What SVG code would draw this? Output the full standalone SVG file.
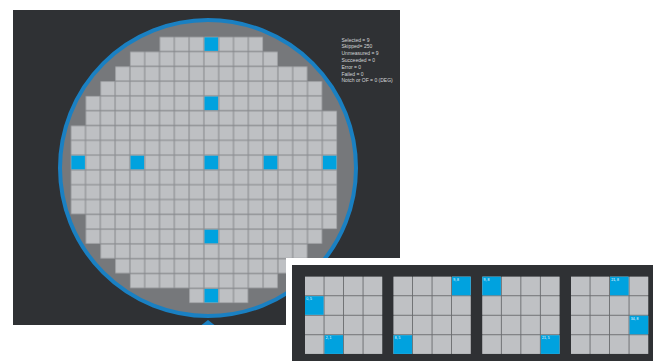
<svg xmlns="http://www.w3.org/2000/svg" width="653" height="361" viewBox="0 0 653 361">
  <style>
    .stat { font-family: "Liberation Sans", Arial, sans-serif; font-size: 5px; fill: #d4d6d8; }
    .lbl { font-family: "Liberation Sans", Arial, sans-serif; font-size: 3.5px; fill: #ffffff; }
    .blue { fill: #00a2df; }
    .cellrow { fill: url(#cells); }
    .mc { fill: #bfc1c4; }
  </style>
  <defs>
    <pattern id="cells" patternUnits="userSpaceOnUse" x="70.7" y="36.7" width="14.8" height="14.8">
      <rect x="0" y="0" width="14.8" height="14.8" fill="#8e9094"/>
      <rect x="0.6" y="0.6" width="13.6" height="13.6" fill="#bec0c3"/>
    </pattern>
    <g id="mini">
      <rect x="0" y="0" width="77.2" height="77.2" fill="#696b6e"/>
      <g class="mc">
        <rect x="0" y="0" width="18.6" height="18.6"/><rect x="19.5" y="0" width="18.6" height="18.6"/><rect x="39" y="0" width="18.6" height="18.6"/><rect x="58.5" y="0" width="18.7" height="18.6"/>
        <rect x="0" y="19.5" width="18.6" height="18.6"/><rect x="19.5" y="19.5" width="18.6" height="18.6"/><rect x="39" y="19.5" width="18.6" height="18.6"/><rect x="58.5" y="19.5" width="18.7" height="18.6"/>
        <rect x="0" y="39" width="18.6" height="18.6"/><rect x="19.5" y="39" width="18.6" height="18.6"/><rect x="39" y="39" width="18.6" height="18.6"/><rect x="58.5" y="39" width="18.7" height="18.6"/>
        <rect x="0" y="58.5" width="18.6" height="18.7"/><rect x="19.5" y="58.5" width="18.6" height="18.7"/><rect x="39" y="58.5" width="18.6" height="18.7"/><rect x="58.5" y="58.5" width="18.7" height="18.7"/>
      </g>
    </g>
  </defs>

  <rect x="0" y="0" width="653" height="361" fill="#ffffff"/>

  <g id="wafer-panel">
    <rect x="13" y="10" width="387" height="315" fill="#2f3134"/>
    <circle cx="208" cy="168" r="148" fill="#76787b" stroke="#1a80c2" stroke-width="4"/>
    <polygon points="208,320 201.5,325 214.5,325" fill="#1a80c2"/>
    <g id="dies">
      <rect class="cellrow" x="159.5" y="36.7" width="103.6" height="14.8"/>
      <rect class="cellrow" x="129.9" y="51.5" width="148" height="14.8"/>
      <rect class="cellrow" x="115.1" y="66.3" width="192.4" height="14.8"/>
      <rect class="cellrow" x="100.3" y="81.1" width="222" height="14.8"/>
      <rect class="cellrow" x="85.5" y="95.9" width="236.8" height="14.8"/>
      <rect class="cellrow" x="85.5" y="110.7" width="251.6" height="14.8"/>
      <rect class="cellrow" x="70.7" y="125.5" width="266.4" height="88.8"/>
      <rect class="cellrow" x="85.5" y="214.3" width="251.6" height="14.8"/>
      <rect class="cellrow" x="85.5" y="229.1" width="236.8" height="14.8"/>
      <rect class="cellrow" x="100.3" y="243.9" width="207.2" height="14.8"/>
      <rect class="cellrow" x="115.1" y="258.7" width="177.6" height="14.8"/>
      <rect class="cellrow" x="129.9" y="273.5" width="148" height="14.8"/>
      <rect class="cellrow" x="189.1" y="288.3" width="59.2" height="14.8"/>
    </g>
    <g id="selected-dies" class="blue">
      <rect x="204.5" y="37.3" width="13.6" height="13.6"/>
      <rect x="204.5" y="96.5" width="13.6" height="13.6"/>
      <rect x="71.3" y="155.7" width="13.6" height="13.6"/>
      <rect x="130.5" y="155.7" width="13.6" height="13.6"/>
      <rect x="204.5" y="155.7" width="13.6" height="13.6"/>
      <rect x="263.7" y="155.7" width="13.6" height="13.6"/>
      <rect x="322.9" y="155.7" width="13.6" height="13.6"/>
      <rect x="204.5" y="229.7" width="13.6" height="13.6"/>
      <rect x="204.5" y="288.9" width="13.6" height="13.6"/>
    </g>
    <g id="stats">
      <text class="stat" x="341.5" y="41.5">Selected = 9</text>
      <text class="stat" x="341.5" y="48.3">Skipped= 250</text>
      <text class="stat" x="341.5" y="55.1">Unmeasured = 9</text>
      <text class="stat" x="341.5" y="61.9">Succeeded = 0</text>
      <text class="stat" x="341.5" y="68.7">Error = 0</text>
      <text class="stat" x="341.5" y="75.5">Failed = 0</text>
      <text class="stat" x="341.5" y="82.3">Notch or OF = 0 (DEG)</text>
    </g>
  </g>

  <g id="inset">
    <rect x="286" y="258" width="367" height="103" fill="#ffffff"/>
    <rect x="292" y="265" width="361" height="96" fill="#2f3134"/>

    <g id="site-map-1" transform="translate(305,276.7)">
      <use href="#mini"/>
      <rect class="blue" x="0" y="19.5" width="18.6" height="18.6"/>
      <rect class="blue" x="19.5" y="58.5" width="18.6" height="18.7"/>
      <text class="lbl" x="1.2" y="23.5">0, 5</text>
      <text class="lbl" x="20.7" y="62.5">2, 1</text>
    </g>
    <g id="site-map-2" transform="translate(393.5,276.7)">
      <use href="#mini"/>
      <rect class="blue" x="58.5" y="0" width="18.7" height="18.6"/>
      <rect class="blue" x="0" y="58.5" width="18.6" height="18.7"/>
      <text class="lbl" x="59.7" y="4">9, 8</text>
      <text class="lbl" x="1.2" y="62.5">8, 5</text>
    </g>
    <g id="site-map-3" transform="translate(482.3,276.7)">
      <use href="#mini"/>
      <rect class="blue" x="0" y="0" width="18.6" height="18.6"/>
      <rect class="blue" x="58.5" y="58.5" width="18.7" height="18.7"/>
      <text class="lbl" x="1.2" y="4">9, 8</text>
      <text class="lbl" x="59.7" y="62.5">21, 5</text>
    </g>
    <g id="site-map-4" transform="translate(571,276.7)">
      <use href="#mini"/>
      <rect class="blue" x="39" y="0" width="18.6" height="18.6"/>
      <rect class="blue" x="58.5" y="39" width="18.7" height="18.6"/>
      <text class="lbl" x="40.2" y="4">21, 8</text>
      <text class="lbl" x="59.7" y="43">34, 8</text>
    </g>
  </g>
</svg>
